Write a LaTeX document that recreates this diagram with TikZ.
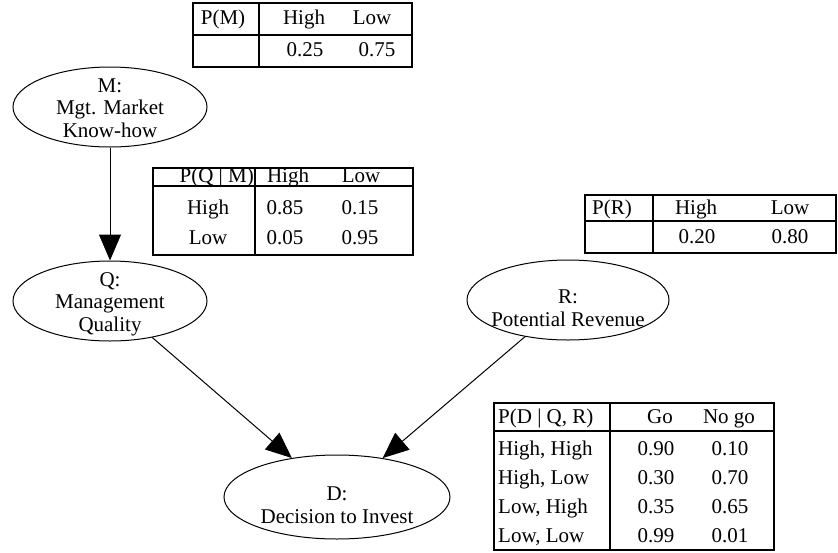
\documentclass[tikz,border=0pt]{standalone}
\usepackage{fontspec}
\setmainfont{Liberation Serif}
\usetikzlibrary{shapes.geometric, arrows.meta, positioning}
\tikzset{
  var/.style={draw, ellipse, line width=1pt, inner sep=0pt, minimum height=80pt},
  lbl/.style={align=center, inner sep=0pt, font=\fontsize{21}{22.5}\selectfont},
  cell/.style={inner sep=0pt, text height=15pt, text depth=5pt,
    font=\fontsize{21}{22.5}\selectfont},
  tbl/.style={line width=1.6pt},
  link/.style={line width=1pt, -{Triangle[length=26pt, width=22pt]}}
}

\begin{document}
\begin{tikzpicture}[x=1pt, y=-1pt]
    \useasboundingbox (0,0) rectangle (838,552);

    % variables
    \node[var, minimum width=194pt] (M) at (110,107) {};
    \node[var, minimum width=194pt] (Q) at (110,301) {};
    \node[var, minimum width=202pt] (R) at (568,300) {};
    \node[var, minimum width=226pt, minimum height=84pt] (D) at (337,497) {};
    \node[lbl] (Mt) at ([yshift=-1pt]M.center) {M:\\Mgt. Market\\Know-how};
    \node[lbl] (Qt) at ([yshift=-3pt]Q.center) {Q:\\Management\\Quality};
    \node[lbl] (Rt) at ([yshift=-8pt]R.center) {R:\\Potential Revenue};
    \node[lbl] (Dt) at ([yshift=-8pt]D.center) {D:\\Decision to Invest};

    \draw[link] (M) -- (Q);
    \draw[link] (Q) -- (D);
    \draw[link] (R) -- (D);

    % P(M)
    \draw[tbl] (193,3) rectangle (412,67);
    \draw[tbl] (193,35) -- (412,35) (259,3) -- (259,67);
    \node[cell] (pm) at (223,19) {P(M)};
    \node[cell] (pmh) at (304,19) {High};
    \node[cell] (pml) at (372,19) {Low};
    \node[cell] (pm1) at (305,51) {0.25};
    \node[cell] (pm2) at (377,51) {0.75};

    % P(Q | M)
    \draw[tbl] (153,168) rectangle (413,255);
    \draw[tbl] (153,186) -- (413,186) (255,168) -- (255,255);
    \node[cell, anchor=east] (pq) at (254,177) {P(Q | M)};
    \node[cell] (pqh) at (288,177) {High};
    \node[cell] (pql) at (361,177) {Low};
    \foreach \lab/\a/\b [count=\i] in {High/0.85/0.15, Low/0.05/0.95}
    {
        \node[cell] (pq\i) at (208,179+30*\i) {\lab};
        \node[cell] (pqa\i) at (285,179+30*\i) {\a};
        \node[cell] (pqb\i) at (360,179+30*\i) {\b};
    }

    % P(R)
    \draw[tbl] (585,195) rectangle (836,253);
    \draw[tbl] (585,221) -- (836,221) (653,195) -- (653,253);
    \node[cell] (pr) at (612,209) {P(R)};
    \node[cell] (prh) at (696,209) {High};
    \node[cell] (prl) at (790,209) {Low};
    \node[cell] (pr1) at (697,238) {0.20};
    \node[cell] (pr2) at (790,238) {0.80};

    % P(D | Q, R)
    \draw[tbl] (494,403) rectangle (774,550);
    \draw[tbl] (494,431) -- (774,431) (610,403) -- (610,550);
    \node[cell, anchor=west] (pd) at (498,418) {P(D | Q, R)};
    \node[cell] (pdg) at (660,418) {Go};
    \node[cell] (pdn) at (729,418) {No go};
    \foreach \lab/\a/\b [count=\i] in {{High, High}/0.90/0.10, {High, Low}/0.30/0.70,
        {Low, High}/0.35/0.65, {Low, Low}/0.99/0.01}
    {
        \node[cell, anchor=west] (pd\i) at (498,421+29*\i) {\lab};
        \node[cell] (pda\i) at (656,421+29*\i) {\a};
        \node[cell] (pdb\i) at (730,421+29*\i) {\b};
    }
\end{tikzpicture}
\end{document}
